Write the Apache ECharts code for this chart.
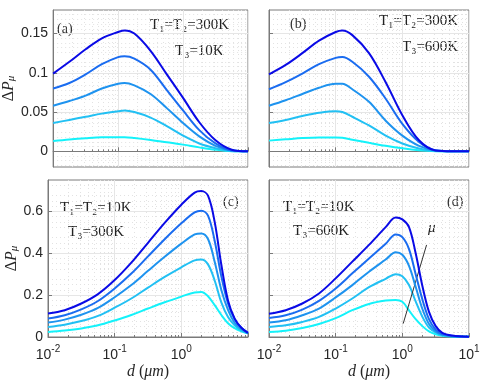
<!DOCTYPE html>
<html>
<head>
<meta charset="utf-8">
<script src="https://cdn.jsdelivr.net/npm/echarts@6/dist/echarts.min.js"></script>
<style>
  html, body { margin: 0; padding: 0; background: #fff; }
  #chart { width: 491px; height: 381px; }
</style>
</head>
<body>
<div id="chart"></div>
<script>
// log10(d) sample positions, d in um
var logA = [-2, -1.75, -1.5, -1.25, -1, -0.9, -0.75, -0.5, -0.25, 0, 0.25, 0.5, 0.75, 1];
var logC = [-2, -1.75, -1.5, -1.25, -1, -0.75, -0.5, -0.25, 0, 0.2, 0.3, 0.4, 0.5, 0.6, 0.7, 0.8, 0.9, 1];
var logD = [-2, -1.75, -1.5, -1.25, -1, -0.75, -0.5, -0.25, -0.1, 0, 0.1, 0.2, 0.3, 0.4, 0.5, 0.6, 0.75, 1];

// (a) T1=T2=300K, T3=10K  (curve 1 = lowest mu ... curve 5 = highest)
var a1 = [0.013, 0.015, 0.0166, 0.0178, 0.018, 0.018, 0.017, 0.0145, 0.0115, 0.0085, 0.005, 0.002, 0.0002, 0];
var a2 = [0.036, 0.040, 0.044, 0.048, 0.051, 0.052, 0.050, 0.043, 0.032, 0.020, 0.010, 0.004, 0.0005, 0];
var a3 = [0.058, 0.064, 0.071, 0.080, 0.086, 0.087, 0.084, 0.073, 0.055, 0.036, 0.019, 0.007, 0.001, 0];
var a4 = [0.080, 0.087, 0.098, 0.111, 0.120, 0.121, 0.118, 0.104, 0.078, 0.052, 0.027, 0.010, 0.001, 0];
var a5 = [0.099, 0.114, 0.130, 0.144, 0.152, 0.154, 0.150, 0.128, 0.098, 0.068, 0.037, 0.014, 0.002, 0];

// (b) T1=T2=300K, T3=600K
var b1 = [0.0136, 0.0152, 0.0168, 0.0176, 0.0176, 0.0172, 0.0148, 0.0108, 0.007, 0.0038, 0.0014, 0.0002, 0, 0];
var b2 = [0.036, 0.040, 0.045, 0.049, 0.051, 0.050, 0.044, 0.033, 0.020, 0.010, 0.0035, 0.0003, 0, 0];
var b3 = [0.058, 0.065, 0.073, 0.081, 0.086, 0.086, 0.079, 0.063, 0.039, 0.020, 0.007, 0.001, 0, 0];
var b4 = [0.079, 0.088, 0.099, 0.111, 0.119, 0.120, 0.114, 0.095, 0.067, 0.035, 0.012, 0.001, 0, 0];
var b5 = [0.098, 0.110, 0.125, 0.141, 0.152, 0.154, 0.148, 0.125, 0.088, 0.046, 0.014, 0.001, 0, 0];

// (c) T1=T2=10K, T3=300K
var c1 = [0.024, 0.031, 0.041, 0.056, 0.079, 0.105, 0.136, 0.166, 0.193, 0.213, 0.215, 0.195, 0.152, 0.105, 0.066, 0.042, 0.027, 0.018];
var c2 = [0.048, 0.059, 0.076, 0.101, 0.140, 0.184, 0.236, 0.287, 0.333, 0.366, 0.370, 0.347, 0.270, 0.165, 0.095, 0.056, 0.032, 0.018];
var c3 = [0.069, 0.083, 0.106, 0.139, 0.190, 0.248, 0.316, 0.383, 0.446, 0.490, 0.495, 0.468, 0.360, 0.225, 0.130, 0.068, 0.038, 0.018];
var c4 = [0.088, 0.104, 0.132, 0.172, 0.232, 0.303, 0.385, 0.467, 0.543, 0.595, 0.603, 0.580, 0.460, 0.290, 0.160, 0.085, 0.045, 0.020];
var c5 = [0.112, 0.128, 0.160, 0.205, 0.272, 0.355, 0.450, 0.545, 0.632, 0.690, 0.697, 0.675, 0.550, 0.345, 0.175, 0.088, 0.044, 0.020];

// (d) T1=T2=10K, T3=600K
var d1 = [0.024, 0.030, 0.043, 0.062, 0.090, 0.128, 0.158, 0.174, 0.177, 0.168, 0.127, 0.085, 0.052, 0.027, 0.013, 0.006, 0.002, 0.001];
var d2 = [0.048, 0.056, 0.072, 0.096, 0.136, 0.184, 0.238, 0.278, 0.300, 0.290, 0.248, 0.170, 0.097, 0.045, 0.022, 0.009, 0.003, 0.001];
var d3 = [0.069, 0.080, 0.104, 0.136, 0.189, 0.248, 0.312, 0.370, 0.405, 0.393, 0.340, 0.240, 0.135, 0.062, 0.027, 0.011, 0.004, 0.001];
var d4 = [0.091, 0.104, 0.131, 0.173, 0.232, 0.304, 0.375, 0.445, 0.490, 0.477, 0.420, 0.300, 0.180, 0.085, 0.035, 0.014, 0.005, 0.001];
var d5 = [0.111, 0.128, 0.160, 0.208, 0.280, 0.360, 0.440, 0.525, 0.571, 0.562, 0.525, 0.400, 0.245, 0.120, 0.052, 0.020, 0.007, 0.001];

// mu arrow in (d): [d, value] start and end
var arrowFrom = [1.03, 0.064];
var arrowTo = [2.31, 0.44];

var yTicksTop = [0, 0.05, 0.1, 0.15];
var yTicksBot = [0, 0.2, 0.4, 0.6];

var colors = ['#14f2fa', '#22c0f3', '#1e93ef', '#1a6cf0', '#0a0ae6'];

var SERIF = 'Liberation Serif, DejaVu Serif';
var SANS = 'Liberation Sans';

var panels = [
    { log: logA, curves: [a1, a2, a3, a4, a5], left: 48, top: 10, yMin: -0.02, yMax: 0.18, yTicks: yTicksTop, minorY: 5, xLabels: false, yLabels: true },
    { log: logA, curves: [b1, b2, b3, b4, b5], left: 269, top: 10, yMin: -0.02, yMax: 0.18, yTicks: yTicksTop, minorY: 5, xLabels: false, yLabels: false },
    { log: logC, curves: [c1, c2, c3, c4, c5], left: 48, top: 180, yMin: 0, yMax: 0.75, yTicks: yTicksBot, minorY: 4, xLabels: true, yLabels: true, hideLast: true },
    { log: logD, curves: [d1, d2, d3, d4, d5], left: 269, top: 180, yMin: 0, yMax: 0.75, yTicks: yTicksBot, minorY: 4, xLabels: true, yLabels: false }
];

var grids = [], xAxes = [], yAxes = [], series = [];

var lineColor = '#7a7a7a';
var majorGrid = { show: true, lineStyle: { color: '#e6e6e6', width: 1 } };
var minorGrid = { show: true, lineStyle: { color: '#e2e2e2', width: 1, type: [1, 3] } };

panels.forEach(function (p, i) {
    grids.push({ left: p.left, top: p.top, width: 200, height: 157, show: true, borderColor: lineColor, borderWidth: 1 });

    xAxes.push({
        type: 'log', logBase: 10, gridIndex: i, min: 0.01, max: 10,
        axisLine: { show: true, lineStyle: { color: lineColor } },
        axisTick: { show: true, inside: true, length: 4, lineStyle: { color: lineColor } },
        minorTick: { show: true, splitNumber: 9, length: 2, lineStyle: { color: lineColor } },
        splitLine: majorGrid,
        minorSplitLine: minorGrid,
        axisLabel: {
            show: p.xLabels, margin: 7, color: '#262626',
            formatter: function (v) {
                if (p.hideLast && v >= 10) return '';
                var e = Math.round(Math.log10(v));
                return '{b|10}{s|' + e + '}';
            },
            rich: {
                b: { fontFamily: SANS, fontSize: 14, color: '#262626', lineHeight: 18, verticalAlign: 'bottom' },
                s: { fontFamily: SANS, fontSize: 10, color: '#262626', lineHeight: 12, verticalAlign: 'top' }
            }
        },
        name: p.xLabels ? '{i|d} ({i|μm})' : '',
        nameLocation: 'middle', nameGap: 27,
        nameTextStyle: {
            fontFamily: SERIF, fontSize: 16, color: '#262626',
            rich: { i: { fontFamily: SERIF, fontSize: 16, fontStyle: 'italic', color: '#262626' } }
        }
    });

    yAxes.push({
        type: 'value', gridIndex: i, min: p.yMin, max: p.yMax,
        axisLine: { show: true, lineStyle: { color: lineColor } },
        axisTick: { show: true, inside: true, length: 4, customValues: p.yTicks, lineStyle: { color: lineColor } },
        minorTick: { show: false, splitNumber: p.minorY },
        splitLine: majorGrid,
        minorSplitLine: minorGrid,
        axisLabel: { show: p.yLabels, customValues: p.yTicks, fontFamily: SANS, fontSize: 14, color: '#262626', margin: 5 },
        name: p.yLabels ? '{n|Δ}{p|P}{m|μ}' : '',
        nameLocation: 'middle', nameGap: 27, nameRotate: 90,
        nameTextStyle: {
            color: '#262626',
            rich: {
                n: { fontFamily: SERIF, fontSize: 16, lineHeight: 20, verticalAlign: 'bottom' },
                p: { fontFamily: SERIF, fontSize: 16, fontStyle: 'italic', lineHeight: 20, verticalAlign: 'bottom' },
                m: { fontFamily: SERIF, fontSize: 11, fontStyle: 'italic', lineHeight: 12, verticalAlign: 'bottom' }
            }
        }
    });

    p.curves.forEach(function (vals, k) {
        var s = {
            type: 'line', xAxisIndex: i, yAxisIndex: i,
            data: p.log.map(function (l, j) { return [Math.pow(10, l), vals[j]]; }),
            showSymbol: false, smooth: 0.35, silent: true,
            lineStyle: { color: colors[k], width: 2 },
            itemStyle: { color: colors[k] },
            z: 3 + k
        };
        if (i === 3 && k === 4) {
            s.markLine = {
                silent: true, symbol: ['none', 'arrow'], symbolSize: [0, 8],
                label: { show: false },
                lineStyle: { color: '#333', width: 1, type: 'solid' },
                data: [[{ coord: arrowFrom, symbol: 'none' }, { coord: arrowTo, symbol: 'arrow' }]]
            };
        }
        series.push(s);
    });
});

function tText(x, y, str) {
    return {
        type: 'text', x: x, y: y,
        style: { text: str, fontFamily: SERIF, fontSize: 15, fill: '#222' }
    };
}
function pLabel(x, y, str) {
    return { type: 'text', x: x, y: y, style: { text: str, fontFamily: SERIF, fontSize: 14, fill: '#333' } };
}

var graphics = [
    pLabel(57, 22, '(a)'),
    pLabel(290, 17, '(b)'),
    pLabel(223, 195, '(c)'),
    pLabel(447, 195, '(d)'),
    tText(150, 18, 'T₁=T₂=300K'),
    tText(175, 44, 'T₃=10K'),
    tText(379, 14, 'T₁=T₂=300K'),
    tText(402, 40, 'T₃=600K'),
    tText(60, 201, 'T₁=T₂=10K'),
    tText(68, 225, 'T₃=300K'),
    tText(283, 200, 'T₁=T₂=10K'),
    tText(293, 224, 'T₃=600K'),
    { type: 'text', x: 428, y: 221, style: { text: 'μ', fontFamily: SERIF, fontSize: 15, fontStyle: 'italic', fill: '#222' } }
];

var chart = echarts.init(document.getElementById('chart'), null, { renderer: 'canvas' });
chart.setOption({
    animation: false,
    backgroundColor: '#fff',
    grid: grids,
    xAxis: xAxes,
    yAxis: yAxes,
    series: series,
    graphic: graphics
});
</script>
</body>
</html>
